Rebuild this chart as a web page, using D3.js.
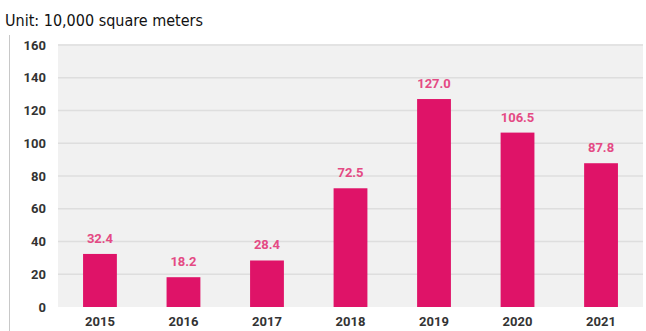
<!DOCTYPE html>
<html><head><meta charset="utf-8">
<script src="https://cdn.jsdelivr.net/npm/d3@7"></script>
<style>body{margin:0;background:#fff}svg{display:block}</style>
</head><body><svg id="c" width="646" height="331"></svg>
<script>
const years = ["2015","2016","2017","2018","2019","2020","2021"];
const values = [32.4, 18.2, 28.4, 72.5, 127.0, 106.5, 87.8];
const yTicks = [0,20,40,60,80,100,120,140,160];
const unitLabel = "Unit: 10,000 square meters";

const svg = d3.select("#c");
const m = {l:58, r:3, t:45, b:24};
const W = 646, H = 331;
const x = d3.scaleBand().domain(years).range([m.l, W-m.r]).paddingInner(0.595).paddingOuter(0.3);
const y = d3.scaleLinear().domain([0,160]).range([H-m.b, m.t]);

svg.append("line").attr("x1",9.5).attr("x2",9.5).attr("y1",35).attr("y2",331).attr("stroke","#c8c8c8").attr("stroke-width",1);

svg.append("rect").attr("x",m.l).attr("y",m.t-1).attr("width",W-m.r-m.l).attr("height",H-m.b-m.t+1).attr("fill","#f1f1f1");

svg.append("g").selectAll("line").data(yTicks.filter(d=>d>0)).join("line")
  .attr("x1",m.l).attr("x2",W-m.r).attr("y1",d=>y(d)).attr("y2",d=>y(d))
  .attr("stroke","#dedede").attr("stroke-width",1.5);

const ya = svg.append("g").attr("transform",`translate(${m.l},0)`)
  .call(d3.axisLeft(y).tickValues(yTicks).tickSize(0).tickPadding(12));
ya.select(".domain").remove();
ya.selectAll("text").attr("font-family","Roboto, Arial, sans-serif").attr("font-size",13).attr("font-weight","bold").attr("fill","#333");

const xa = svg.append("g").attr("transform",`translate(0,${H-m.b})`)
  .call(d3.axisBottom(x).tickSize(0).tickPadding(10));
xa.select(".domain").remove();
xa.selectAll("text").attr("font-family","Roboto, Arial, sans-serif").attr("font-size",13).attr("font-weight","bold").attr("fill","#333");

svg.append("g").selectAll("rect").data(values).join("rect")
  .attr("x",(d,i)=>x(years[i])).attr("width",x.bandwidth())
  .attr("y",d=>y(d)).attr("height",d=>y(0)-y(d)).attr("fill","#df1368");

svg.append("g").selectAll("text").data(values).join("text")
  .attr("x",(d,i)=>x(years[i])+x.bandwidth()/2).attr("y",d=>y(d)-11)
  .attr("text-anchor","middle").attr("font-family","Roboto, Arial, sans-serif")
  .attr("font-size",13).attr("font-weight","bold").attr("fill","#e44a84")
  .text(d=>d.toFixed(1));

svg.append("text").attr("x",5).attr("y",26).attr("font-family","'Liberation Sans Narrow','DejaVu Sans Condensed',sans-serif")
  .attr("font-size",16).attr("fill","#111").text(unitLabel);
</script></body></html>
